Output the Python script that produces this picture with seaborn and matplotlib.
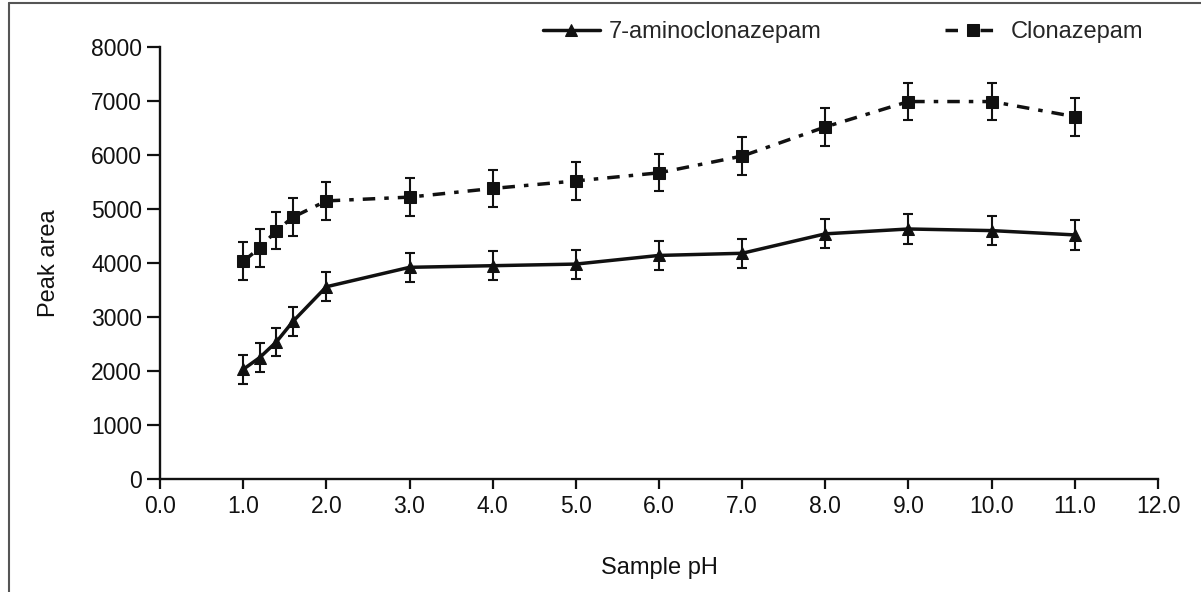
import numpy as np
import pandas as pd
import matplotlib
matplotlib.use('Agg')
import matplotlib.pyplot as plt
from matplotlib.lines import Line2D
import seaborn as sns

# values
ph = [1.0, 1.2, 1.4, 1.6, 2.0, 3.0, 4.0, 5.0, 6.0, 7.0, 8.0, 9.0, 10.0, 11.0]
amino_area = [2030, 2250, 2540, 2920, 3560, 3920, 3950, 3980, 4140, 4180, 4540, 4630, 4600, 4520]
amino_err = [265, 265, 265, 265, 265, 270, 270, 270, 270, 270, 270, 272, 270, 270]
clona_area = [4030, 4280, 4600, 4850, 5150, 5220, 5380, 5520, 5670, 5980, 6520, 6990, 6990, 6710]
clona_err = [350, 350, 345, 345, 345, 350, 350, 350, 345, 350, 350, 350, 350, 350]
x_ticks = [0, 1, 2, 3, 4, 5, 6, 7, 8, 9, 10, 11, 12]
y_ticks = [0, 1000, 2000, 3000, 4000, 5000, 6000, 7000, 8000]

amino_df = pd.DataFrame({'pH': ph, 'area': amino_area})
clona_df = pd.DataFrame({'pH': ph, 'area': clona_area})

sns.set_style('ticks')
plt.rcParams['font.family'] = ['Liberation Sans', 'DejaVu Sans']

ink = '#111111'
fig = plt.figure(figsize=(12.01, 5.92), dpi=100)
ax = fig.add_axes([160 / 1201, 113 / 592, 998 / 1201, 432 / 592])

sns.lineplot(x='pH', y='area', data=amino_df, ax=ax, color=ink, lw=2.5,
             marker='^', markersize=8.5, markeredgecolor=ink, label='7-aminoclonazepam')
sns.lineplot(x='pH', y='area', data=clona_df, ax=ax, color=ink, lw=2.5,
             linestyle=(0, (3.6, 2.6, 1.3, 2.6)),
             marker='s', markersize=8, markeredgecolor=ink, label='Clonazepam')
ax.errorbar(ph, amino_area, yerr=amino_err, fmt='none', ecolor=ink,
            elinewidth=1.5, capsize=3.8, capthick=1.5)
ax.errorbar(ph, clona_area, yerr=clona_err, fmt='none', ecolor=ink,
            elinewidth=1.5, capsize=3.8, capthick=1.5)

ax.set_xlim(0, 12)
ax.set_ylim(0, 8000)
ax.set_xticks(x_ticks)
ax.set_xticklabels(['%.1f' % t for t in x_ticks])
ax.set_yticks(y_ticks)
ax.tick_params(axis='both', labelsize=16.5, width=1.6, color=ink, labelcolor=ink)
ax.tick_params(axis='y', length=9.5, pad=3.5)
ax.tick_params(axis='x', length=7.5, pad=4)
ax.set_xlabel('Sample pH', fontsize=17, color=ink, labelpad=28)
ax.set_ylabel('Peak area', fontsize=17, color=ink, labelpad=22)
sns.despine(ax=ax)
for s in ['left', 'bottom']:
    ax.spines[s].set_linewidth(1.7)
    ax.spines[s].set_color(ink)

handles, labels = ax.get_legend_handles_labels()
ax.get_legend().remove()
fig.legend(handles, labels, loc='center left', bbox_to_anchor=(543 / 1201, 1 - 32 / 592),
           ncol=2, frameon=False, fontsize=17, handlelength=2.4, handletextpad=0.4,
           columnspacing=5.2, borderpad=0, borderaxespad=0)

# frame around the figure (top and left edges only, as in the source image)
fig.add_artist(Line2D([9 / 1201, 9 / 1201], [0, 1 - 3 / 592], transform=fig.transFigure,
                      color='#555555', lw=1.5))
fig.add_artist(Line2D([9 / 1201, 1], [1 - 3 / 592, 1 - 3 / 592], transform=fig.transFigure,
                      color='#555555', lw=1.5))

fig.savefig('out.png', dpi=100)
